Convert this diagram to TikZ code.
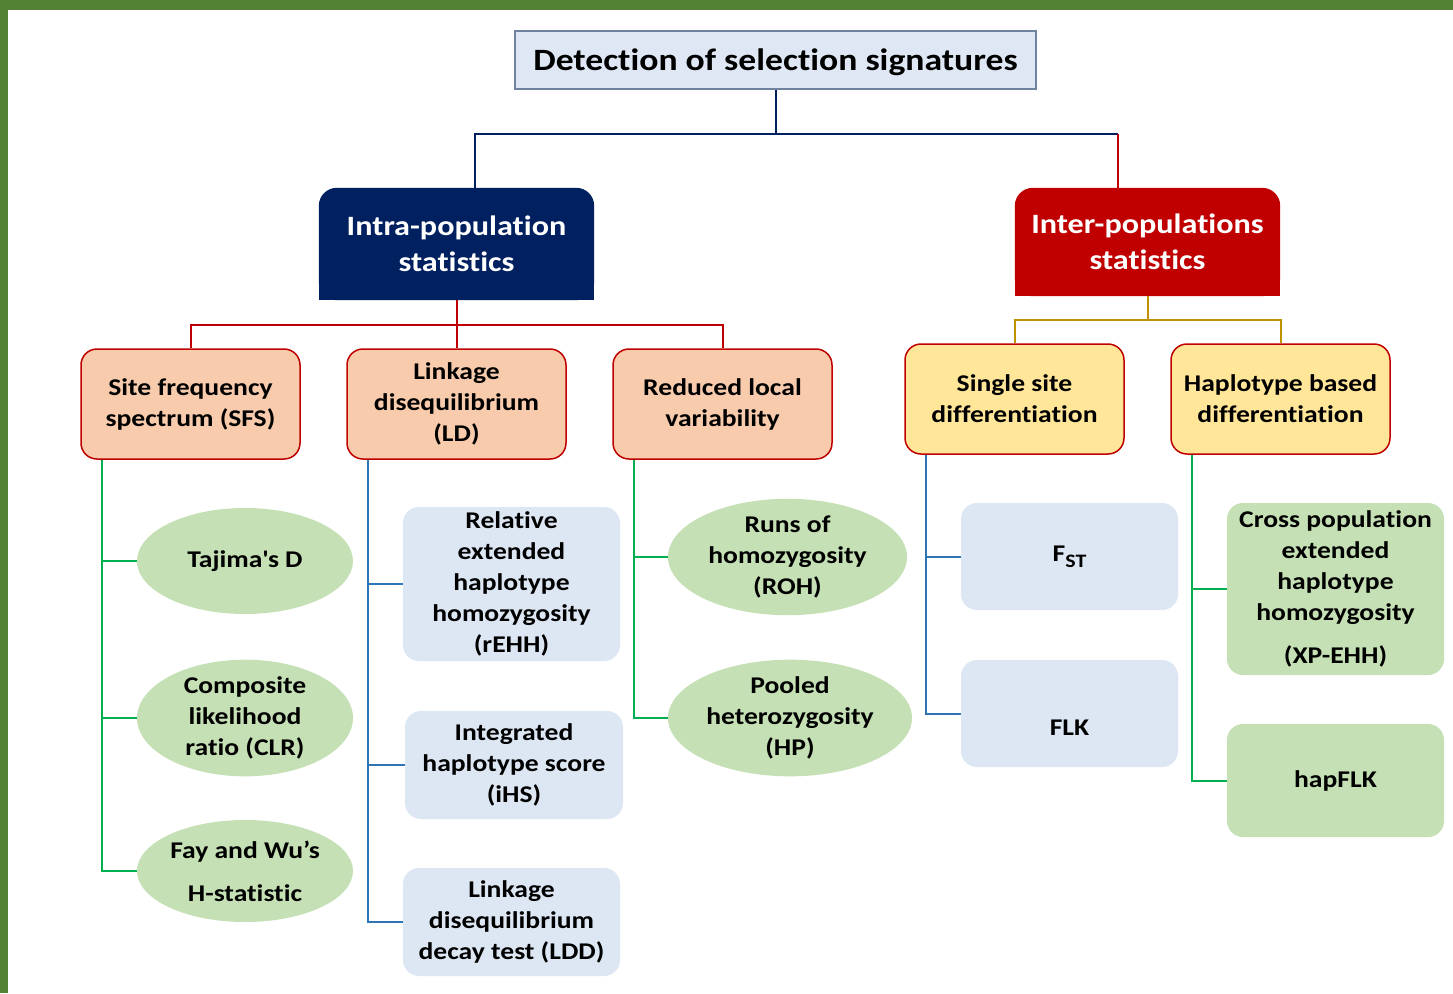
\documentclass[tikz,border=0pt]{standalone}
\usepackage{fontspec}
\setmainfont{Carlito}[FakeStretch=1.15, Ligatures=NoCommon]
\usetikzlibrary{shapes.geometric,backgrounds}
\definecolor{bordergreen}{HTML}{548235}
\definecolor{titlefill}{HTML}{DEE7F3}
\definecolor{titleborder}{HTML}{6F82A0}
\definecolor{navy}{HTML}{002060}
\definecolor{darkred}{HTML}{C00000}
\definecolor{salmon}{HTML}{F8CBAD}
\definecolor{sunyellow}{HTML}{FFE699}
\definecolor{gold}{HTML}{BF9000}
\definecolor{lgreen}{HTML}{00B050}
\definecolor{lblue}{HTML}{2E75B6}
\definecolor{ovalgreen}{HTML}{C5E0B4}
\definecolor{boxblue}{HTML}{DDE7F3}
\tikzset{
  base/.style={align=center, inner sep=0pt, text=black, font=\bfseries\fontsize{24}{31}\selectfont},
  titlebox/.style={base, rectangle, fill=titlefill, draw=titleborder, line width=1.5pt, font=\bfseries\fontsize{31}{36}\selectfont},
  headbox/.style={base, text=white, font=\bfseries\fontsize{28}{36}\selectfont},
  catbox/.style={base, rectangle, rounded corners=16pt, draw=darkred, line width=1.5pt},
  bluebox/.style={base, rectangle, rounded corners=16pt, fill=boxblue},
  greenbox/.style={base, rectangle, rounded corners=16pt, fill=ovalgreen},
  oval/.style={base, ellipse, fill=ovalgreen},
  conn/.style={line width=2pt},
}
\begin{document}
\begin{tikzpicture}[x=1pt,y=-1pt]
\useasboundingbox (0,0) rectangle (1453,993);
% nodes
\node[titlebox, minimum width=521, minimum height=58, text depth=0pt] (title) at (775.5,60) {Detection of selection signatures};
\node[headbox, minimum width=275, minimum height=112] (intra) at (456.5,244) {Intra-population\\statistics};
\node[headbox, minimum width=265, minimum height=108] (inter) at (1147.5,242) {Inter-populations\\statistics};
\node[catbox, fill=salmon, minimum width=219, minimum height=110] (sfs) at (190.5,404) {Site frequency\\spectrum (SFS)};
\node[catbox, fill=salmon, minimum width=219, minimum height=110] (ld) at (456.5,404) {Linkage\\disequilibrium\\(LD)};
\node[catbox, fill=salmon, minimum width=219, minimum height=110] (rlv) at (722.5,404) {Reduced local\\variability};
\node[catbox, fill=sunyellow, minimum width=219, minimum height=110] (single) at (1014.5,399) {Single site\\differentiation};
\node[catbox, fill=sunyellow, minimum width=219, minimum height=110] (haplo) at (1280.5,399) {Haplotype based\\differentiation};
\node[oval, minimum width=216, minimum height=106] (taj) at (245,561) {Tajima\textquotesingle s D};
\node[oval, minimum width=216, minimum height=107] (clr) at (245,718) {Composite\\likelihood\\ratio (CLR)};
\node[oval, minimum width=216, minimum height=102] (fay) at (245,871) {Fay and Wu’s\\[12pt]H-statistic};
\node[bluebox, minimum width=217, minimum height=154] (rehh) at (511.5,584) {Relative\\extended\\haplotype\\homozygosity\\(rEHH)};
\node[bluebox, minimum width=218, minimum height=108] (ihs) at (514,765) {Integrated\\haplotype score\\(iHS)};
\node[bluebox, minimum width=217, minimum height=108] (ldd) at (511.5,922) {Linkage\\disequilibrium\\decay test (LDD)};
\node[oval, minimum width=239, minimum height=102] (roh) at (787.5,557) {Runs of\\homozygosity\\(ROH)};
\node[oval, minimum width=244, minimum height=112] (hp) at (790,718) {Pooled\\heterozygosity\\(HP)};
\node[bluebox, minimum width=217, minimum height=107] (fst) at (1069.5,556.5) {F\raisebox{-6pt}{\fontsize{19}{19}\selectfont ST}};
\node[bluebox, minimum width=217, minimum height=107, text height=44pt, text depth=0pt] (flk) at (1069.5,713.5) {FLK};
\node[greenbox, minimum width=217, minimum height=172] (xpehh) at (1335.5,589) {Cross population\\extended\\haplotype\\homozygosity\\[12pt](XP-EHH)};
\node[greenbox, minimum width=217, minimum height=113] (hapflk) at (1335.5,780.5) {hapFLK};
% backgrounds
\begin{scope}[on background layer]
\fill[white] (0,0) rectangle (1453,993);
\fill[bordergreen] (0,0) rectangle (1453,10);
\fill[bordergreen] (0,0) rectangle (8,993);
\fill[navy, rounded corners=18pt] (intra.south west) rectangle (intra.north east);
\fill[navy] (intra.south west) rectangle (intra.east);
\fill[darkred, rounded corners=18pt] (inter.south west) rectangle (inter.north east);
\fill[darkred] (inter.south west) rectangle (inter.east);
\end{scope}
% top connectors
\draw[conn, navy] (title.south) -- ++(0,44) coordinate (tb);
\coordinate (il) at ([xshift=18.5pt]intra.north);
\coordinate (ir) at ([xshift=-29.5pt]inter.north);
\draw[conn, navy] (il) |- (tb);
\draw[conn, navy] (tb) -- (tb -| ir);
\draw[conn, darkred] (tb -| ir) -- (ir);
% intra bus
\draw[conn, darkred] (intra.south) -- ++(0,25) coordinate (rb);
\draw[conn, darkred] (sfs.north) |- (rb) -| (rlv.north);
\draw[conn, darkred] (rb) -- (ld.north);
% inter bus
\draw[conn, gold] (inter.south) -- ++(0,24) coordinate (gb);
\draw[conn, gold] (single.north) |- (gb) -| (haplo.north);
% children
\coordinate (sfsl) at ([xshift=22pt]sfs.south west);
\draw[conn, lgreen] (sfsl) |- (taj.west);
\draw[conn, lgreen] (sfsl) |- (clr.west);
\draw[conn, lgreen] (sfsl) |- (fay.west);
\coordinate (ldl) at ([xshift=22pt]ld.south west);
\draw[conn, lblue] (ldl) |- (rehh.west);
\draw[conn, lblue] (ldl) |- (ihs.west);
\draw[conn, lblue] (ldl) |- (ldd.west);
\coordinate (rlvl) at ([xshift=22pt]rlv.south west);
\draw[conn, lgreen] (rlvl) |- (roh.west);
\draw[conn, lgreen] (rlvl) |- (hp.west);
\coordinate (sgl) at ([xshift=22pt]single.south west);
\draw[conn, lblue] (sgl) |- (fst.west);
\draw[conn, lblue] (sgl) |- (flk.west);
\coordinate (hpl) at ([xshift=22pt]haplo.south west);
\draw[conn, lgreen] (hpl) |- (xpehh.west);
\draw[conn, lgreen] (hpl) |- (hapflk.west);
\end{tikzpicture}
\end{document}
